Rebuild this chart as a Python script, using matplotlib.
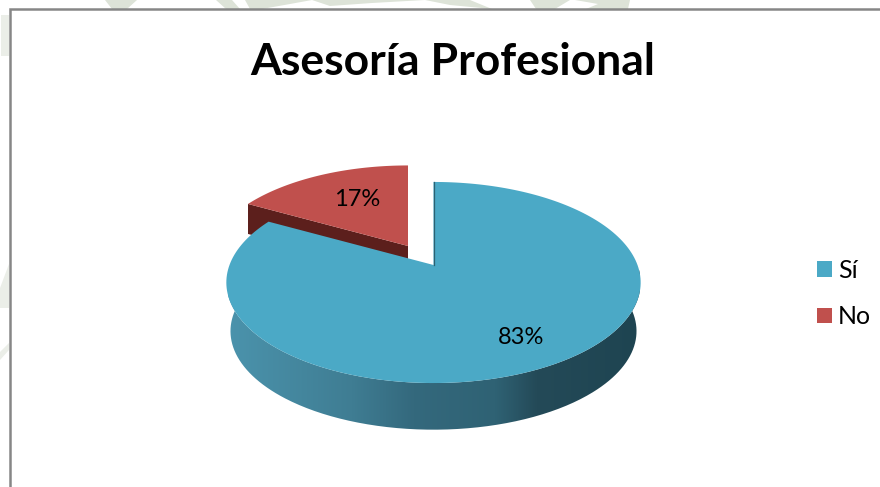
import numpy as np
import matplotlib
matplotlib.use("Agg")
import matplotlib.pyplot as plt
from matplotlib.colors import LinearSegmentedColormap
from matplotlib.patches import Patch, PathPatch, Polygon, Rectangle
from matplotlib.path import Path

labels = ["Sí", "No"]
values = [83, 17]
colors = ["#4BA9C6", "#C0504D"]
title = "Asesoría Profesional"

plt.rcParams['font.family'] = ['Lato', 'DejaVu Sans']

W, H = 880, 487
tilt = 0.174      # perspective strength of the disc
ax_x, ax_y = 204.0, 97.5
depth = 49


def project(frac, cx, cy, scale=1.0):
    # frac runs clockwise from 12 o'clock, 0..1 is one full turn
    th = 2 * np.pi * np.asarray(frac)
    u, v = np.sin(th), np.cos(th)
    d = 1 + tilt * v
    return cx + scale * ax_x * u / d, cy - scale * ax_y * v / d


def wedge(start, end, cx, cy, scale=1.0):
    t = np.linspace(start, end, 200)
    x, y = project(t, cx, cy, scale)
    return np.column_stack([np.r_[cx, x], np.r_[cy, y]])


fig = plt.figure(figsize=(W / 100, H / 100), dpi=100)
ax = fig.add_axes([0, 0, 1, 1])
ax.set_xlim(0, W)
ax.set_ylim(H, 0)
ax.axis("off")

# pale letterhead seal showing round the frame
seal = "#DDE3D8"
for pts in [[(105, 0), (137, 0), (127, 9), (112, 9)],
            [(216, 0), (232, 0), (240, 9), (226, 9)],
            [(245, 0), (312, 0), (290, 4), (262, 9), (250, 9)],
            [(312, 0), (425, 0), (372, 3), (330, 6)],
            [(425, 0), (470, 0), (492, 9), (450, 5)],
            [(530, 0), (570, 0), (555, 9), (536, 9)],
            [(575, 0), (630, 0), (628, 9), (586, 9), (598, 4)]]:
    ax.add_patch(Polygon(pts, closed=True, fc=seal, ec="none", zorder=0))
for pts in [[(1, 15), (9, 15), (9, 56), (1, 56)],
            [(0, 288), (9, 264), (9, 308), (0, 308)],
            [(0, 352), (9, 343), (9, 350), (0, 360)]]:
    ax.add_patch(Polygon(pts, closed=True, fc="#EBEEE8", ec="none", zorder=0))

# chart frame runs off the right and bottom edges
ax.add_patch(Rectangle((10, 9), W + 20, H + 20, fc="white", ec="#868686", lw=1.8, zorder=1))

# values to fractions, first slice starts at 12 o'clock
total = sum(values)
frac_blue = values[0] / total

# red slice: dark cut face first, then the top
rx, ry, rs = 408, 246, 0.97
corner = project(frac_blue, rx, ry, rs)
face = [corner, (rx, ry), (rx, ry + 30), (corner[0], corner[1] + 30)]
ax.add_patch(Polygon(face, closed=True, fc="#5C1F1C", ec="none", zorder=2))
ax.add_patch(Polygon(wedge(frac_blue, 1, rx, ry, rs), closed=True, fc=colors[1], ec="none", zorder=3))

# blue slice: shaded rim clipped to the front of the disc
bx, by = 433.5, 265
t_rim = np.linspace(0.25, 0.75, 300)
t_rim = np.r_[t_rim, 0.75 + np.linspace(0, 0.04, 20)]
t_rim = np.r_[np.linspace(0.22, 0.25, 20), t_rim]
x_top, y_top = project(t_rim, bx, by)
x_bot, y_bot = project(t_rim, bx, by, 0.98)
y_bot = y_bot + depth
rim_pts = np.r_[np.column_stack([x_top, y_top]), np.column_stack([x_bot, y_bot])[::-1]]
rim = PathPatch(Path(np.r_[rim_pts, rim_pts[:1]]), fc="none", ec="none", zorder=4)
ax.add_patch(rim)
shade = LinearSegmentedColormap.from_list("rim", [
    (0.00, "#4B93AC"), (0.30, "#3F7D93"), (0.45, "#34697D"),
    (0.65, "#2F6274"), (0.75, "#244A58"), (1.00, "#1E4451")])
img = ax.imshow(np.linspace(0, 1, 256)[None, :], cmap=shade, extent=(228, 640, 440, 270),
                aspect="auto", zorder=4)
img.set_clip_path(rim)
ax.set_xlim(0, W)
ax.set_ylim(H, 0)

ax.add_patch(Polygon(wedge(0, frac_blue, bx, by), closed=True, fc=colors[0], ec="none", zorder=5))
ax.plot([bx, bx], [by - ax_y / (1 + tilt), by], color="#2B6172", lw=0.9, zorder=5)

# percentages on the slices
ax.text(521, 338, "%d%%" % values[0], ha="center", va="center", fontsize=17, color="black", zorder=6)
ax.text(357, 200, "%d%%" % values[1], ha="center", va="center", fontsize=17, color="black", zorder=6)

ax.text(452.5, 62, title, ha="center", va="center", fontsize=32, fontweight="bold", color="black", zorder=6)

handles = [Patch(fc=c, ec="none") for c in colors]
leg = ax.legend(handles, labels, loc="upper left", bbox_to_anchor=(794 / W, 1 - 236 / H),
                frameon=False, fontsize=18, handlelength=0.6, handleheight=0.6,
                handletextpad=0.26, labelspacing=0.95)
leg.set_zorder(6)

fig.savefig("out.png", dpi=100)
